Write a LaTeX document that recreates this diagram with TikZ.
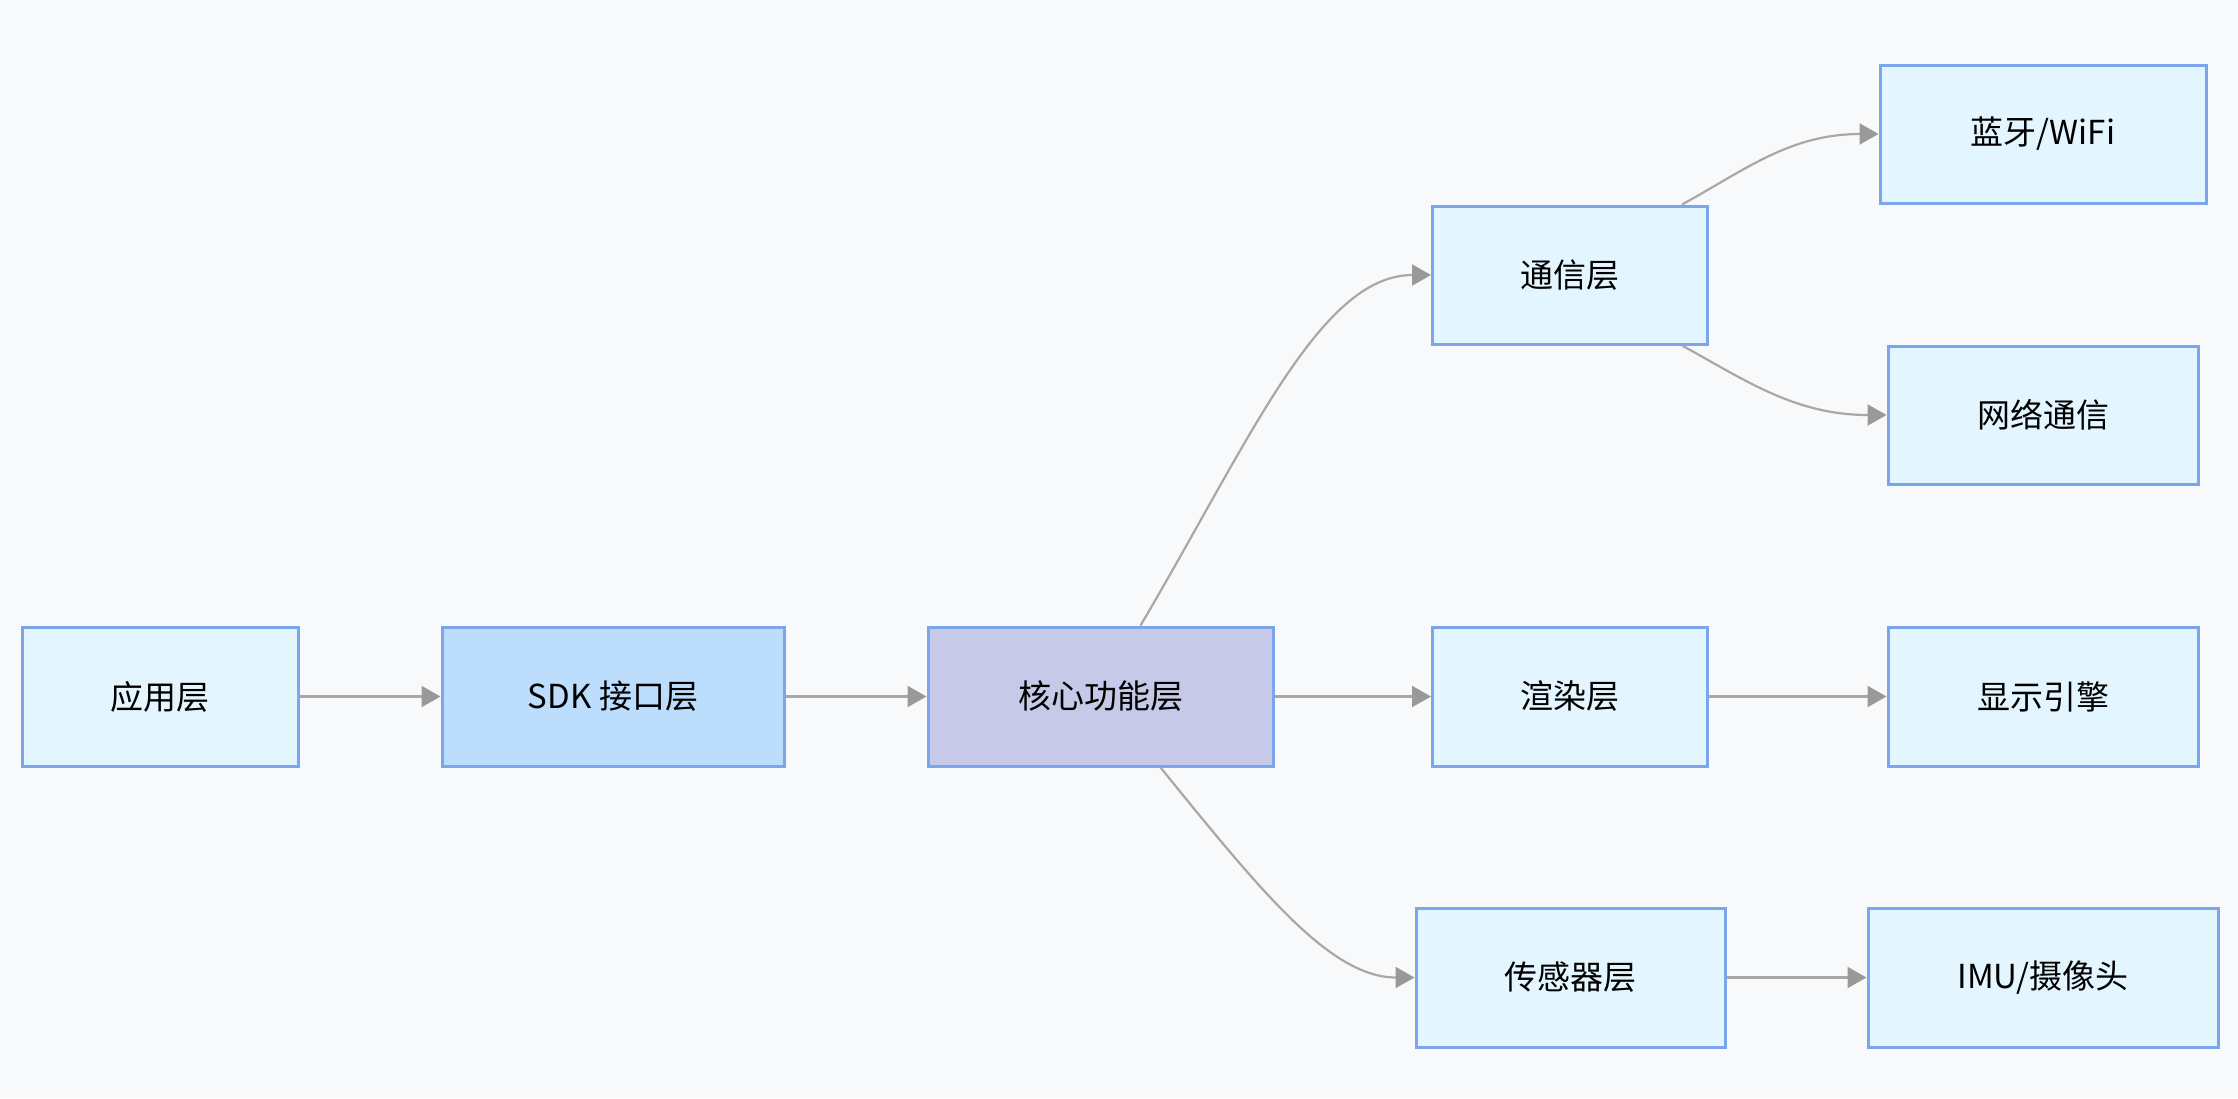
\documentclass[tikz,border=0pt]{standalone}
\usepackage{fontspec}
\setmainfont{Noto Sans CJK SC}
\usetikzlibrary{arrows.meta}
\definecolor{bgc}{HTML}{F8F9FB}
\definecolor{nodefill}{HTML}{E3F5FE}
\definecolor{sdkfill}{HTML}{BCDDFB}
\definecolor{corefill}{HTML}{C6C9E7}
\definecolor{bordc}{HTML}{7BA6EE}
\definecolor{edgec}{HTML}{A8A8A8}
\definecolor{tipc}{HTML}{999999}
\tikzset{
  box/.style={draw=bordc, line width=3pt, fill=nodefill, rectangle, inner sep=0pt,
    font=\fontsize{33}{39}\selectfont, text=black},
  conn/.style={draw=edgec, line width=2.2pt,
    -{Triangle[length=19pt,width=21pt,fill=tipc,color=tipc]}}
}
\begin{document}
\begin{tikzpicture}[x=1pt,y=-1pt]
\fill[bgc] (0,0) rectangle (2238,1098);
\useasboundingbox (0,0) rectangle (2238,1098);
\node[box, minimum width=276pt, minimum height=139pt] (app) at (160,696.5) {应用层};
\node[box, fill=sdkfill, minimum width=342pt, minimum height=139pt] (sdk) at (613,696.5) {SDK 接口层};
\node[box, fill=corefill, minimum width=345pt, minimum height=139pt] (core) at (1100.5,696.5) {核心功能层};
\node[box, minimum width=275pt, minimum height=138pt] (comm) at (1570,275) {通信层};
\node[box, minimum width=326pt, minimum height=138pt] (bt) at (2043,134) {蓝牙/WiFi};
\node[box, minimum width=310pt, minimum height=138pt] (net) at (2043,415) {网络通信};
\node[box, minimum width=275pt, minimum height=139pt] (render) at (1570,696.5) {渲染层};
\node[box, minimum width=310pt, minimum height=139pt] (disp) at (2043,696.5) {显示引擎};
\node[box, minimum width=309pt, minimum height=139pt] (sensor) at (1570.5,977.5) {传感器层};
\node[box, minimum width=350pt, minimum height=139pt] (imu) at (2043,977.5) {IMU/摄像头};
\draw[conn] (app) -- (sdk);
\draw[conn] (sdk) -- (core);
\draw[conn] (core) -- (render);
\draw[conn] (render) -- (disp);
\draw[conn] (sensor) -- (imu);
\draw[conn] ([xshift=40pt]core.north) .. controls (1250,440) and (1320,275) .. (comm.west);
\draw[conn] ([xshift=60pt]core.south) .. controls (1260,890) and (1330,977.5) .. (sensor.west);
\draw[conn] ([xshift=112pt]comm.north) .. controls (1745,170) and (1790,134) .. (bt.west);
\draw[conn] ([xshift=112pt]comm.south) .. controls (1745,380) and (1795,415) .. (net.west);
\end{tikzpicture}
\end{document}
